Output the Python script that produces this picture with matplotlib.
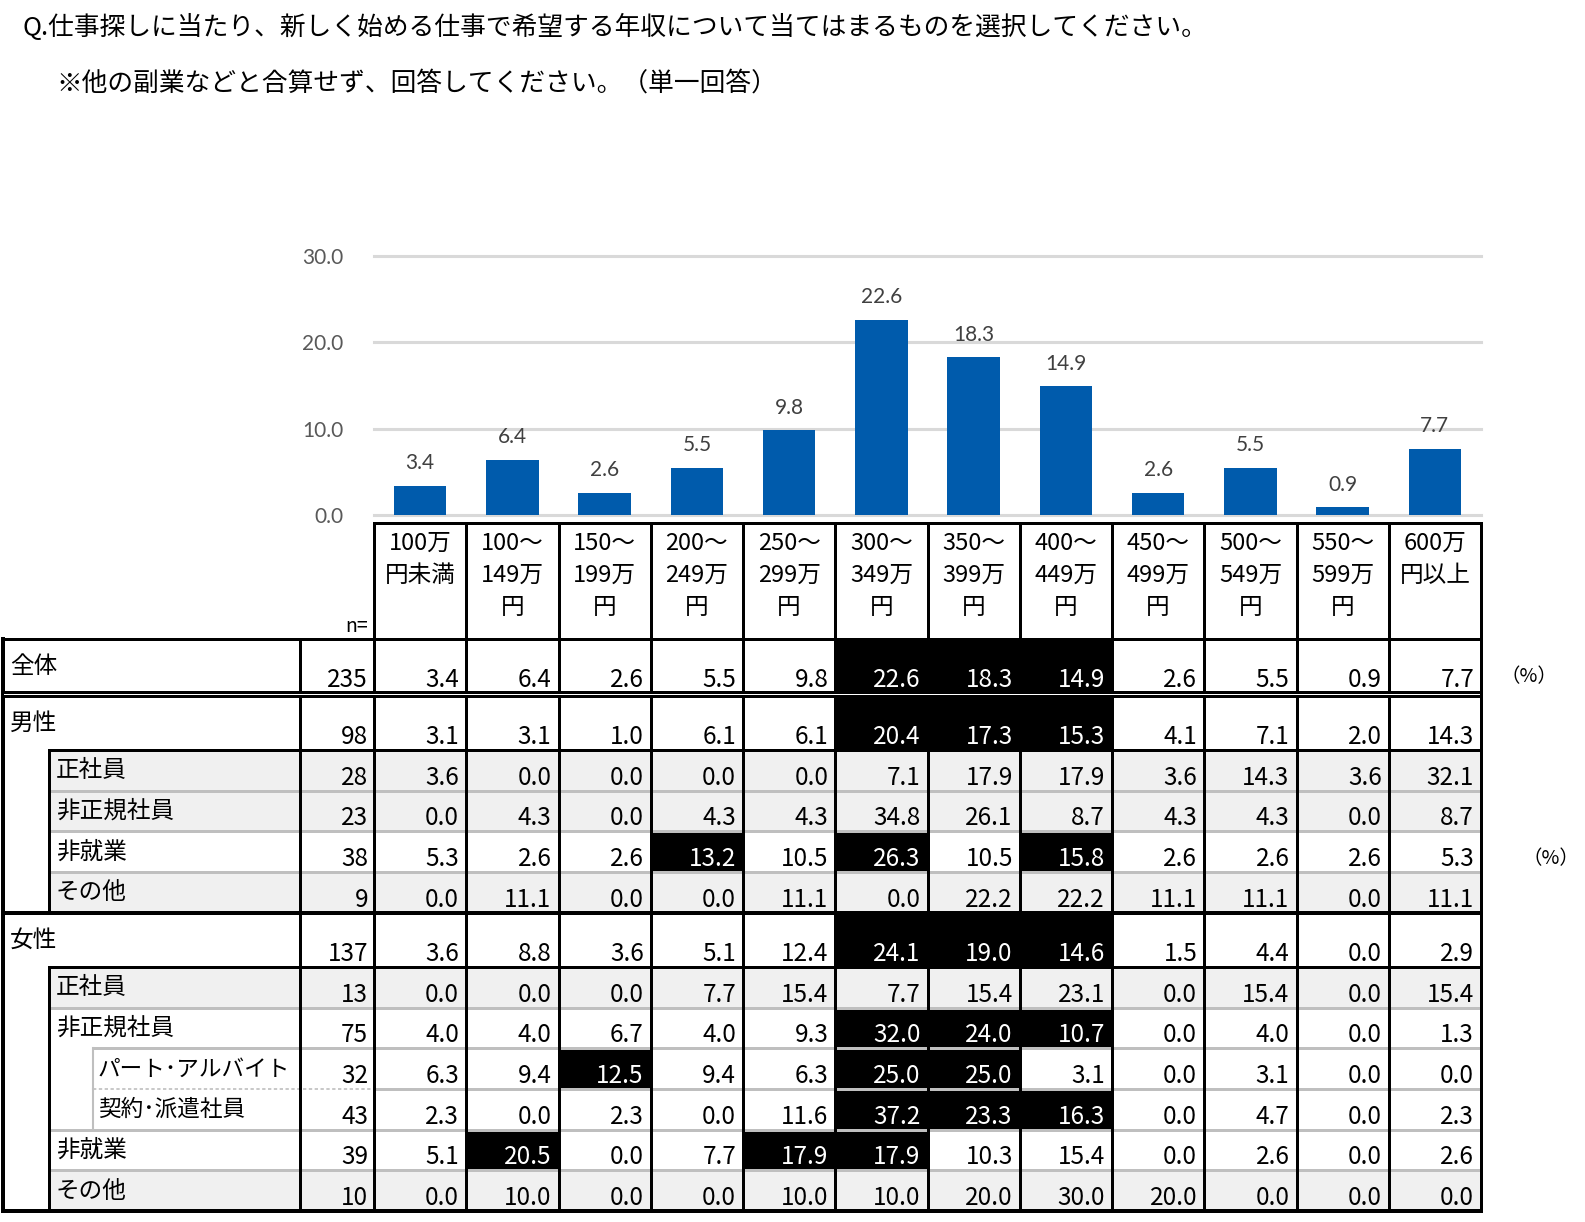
import matplotlib.pyplot as plt
from matplotlib.patches import Rectangle

plt.rcParams['font.family'] = ['Noto Sans CJK JP', 'DejaVu Sans']

# ---- data ----
title_1 = 'Q.仕事探しに当たり、新しく始める仕事で希望する年収について当てはまるものを選択してください。'
title_2 = '※他の副業などと合算せず、回答してください。（単一回答）'

categories = ['100万\n円未満', '100～\n149万\n円', '150～\n199万\n円', '200～\n249万\n円',
              '250～\n299万\n円', '300～\n349万\n円', '350～\n399万\n円', '400～\n449万\n円',
              '450～\n499万\n円', '500～\n549万\n円', '550～\n599万\n円', '600万\n円以上']

row_labels = ['全体', '男性', '正社員', '非正規社員', '非就業', 'その他',
              '女性', '正社員', '非正規社員', 'パート･アルバイト', '契約･派遣社員', '非就業', 'その他']
row_level = [0, 0, 1, 1, 1, 1, 0, 1, 1, 2, 2, 1, 1]
row_n = [235, 98, 28, 23, 38, 9, 137, 13, 75, 32, 43, 39, 10]

overall = [3.4, 6.4, 2.6, 5.5, 9.8, 22.6, 18.3, 14.9, 2.6, 5.5, 0.9, 7.7]
male = [3.1, 3.1, 1.0, 6.1, 6.1, 20.4, 17.3, 15.3, 4.1, 7.1, 2.0, 14.3]
male_regular = [3.6, 0.0, 0.0, 0.0, 0.0, 7.1, 17.9, 17.9, 3.6, 14.3, 3.6, 32.1]
male_nonregular = [0.0, 4.3, 0.0, 4.3, 4.3, 34.8, 26.1, 8.7, 4.3, 4.3, 0.0, 8.7]
male_notworking = [5.3, 2.6, 2.6, 13.2, 10.5, 26.3, 10.5, 15.8, 2.6, 2.6, 2.6, 5.3]
male_other = [0.0, 11.1, 0.0, 0.0, 11.1, 0.0, 22.2, 22.2, 11.1, 11.1, 0.0, 11.1]
female = [3.6, 8.8, 3.6, 5.1, 12.4, 24.1, 19.0, 14.6, 1.5, 4.4, 0.0, 2.9]
female_regular = [0.0, 0.0, 0.0, 7.7, 15.4, 7.7, 15.4, 23.1, 0.0, 15.4, 0.0, 15.4]
female_nonregular = [4.0, 4.0, 6.7, 4.0, 9.3, 32.0, 24.0, 10.7, 0.0, 4.0, 0.0, 1.3]
female_parttime = [6.3, 9.4, 12.5, 9.4, 6.3, 25.0, 25.0, 3.1, 0.0, 3.1, 0.0, 0.0]
female_contract = [2.3, 0.0, 2.3, 0.0, 11.6, 37.2, 23.3, 16.3, 0.0, 4.7, 0.0, 2.3]
female_notworking = [5.1, 20.5, 0.0, 7.7, 17.9, 17.9, 10.3, 15.4, 0.0, 2.6, 0.0, 2.6]
female_other = [0.0, 10.0, 0.0, 0.0, 10.0, 10.0, 20.0, 30.0, 20.0, 0.0, 0.0, 0.0]

rows = [overall, male, male_regular, male_nonregular, male_notworking, male_other,
        female, female_regular, female_nonregular, female_parttime, female_contract,
        female_notworking, female_other]

# ---- layout (pixels) ----
W, H = 1585, 1222
L0, L1, L2 = 3, 49, 93           # label indents
NL, DL, R = 300, 374, 1481        # n column, data start, right edge
CW = (R - DL) / len(categories)
HEAD_TOP, HEAD_BOT = 523, 639
H_GROUP, H_SUB = 54, 40.7
BLACK_LW = 3 * 0.72
GRAY_LW = 3 * 0.72
GRAY = '#bfbfbf'
SHADE = '#f0f0f0'

fig = plt.figure(figsize=(W / 100, H / 100), dpi=100)
ax = fig.add_axes([0, 0, 1, 1])
ax.set_xlim(0, W)
ax.set_ylim(H, 0)
ax.axis('off')

ax.text(22, 27, title_1, fontsize=18.5, va='center', ha='left')
ax.text(56, 84, title_2, fontsize=18.5, va='center', ha='left')

# ---- bar chart aligned with table columns ----
bx = fig.add_axes([DL / W, (H - 515) / H, (R - DL) / W, (515 - 256) / H])
xs = range(len(categories))
bars = bx.bar(xs, overall, width=0.57, color='#005bac', zorder=3)
bx.bar_label(bars, labels=[f'{v:.1f}' for v in overall], padding=9,
             fontsize=15, color='#404040', family='Lato')
bx.set_xlim(-0.5, len(categories) - 0.5)
bx.set_ylim(0, 30)
bx.set_yticks([0, 10, 20, 30])
bx.set_yticklabels([f'{v:.1f}' for v in [0, 10, 20, 30]], family='Lato',
                   fontsize=15, color='#595959')
bx.tick_params(axis='y', length=0, pad=22)
bx.set_xticks([])
bx.yaxis.grid(True, color='#d9d9d9', lw=2.2, clip_on=False)
bx.set_axisbelow(True)
for s in bx.spines.values():
    s.set_visible(False)

# ---- row positions ----
tops, bots = [], []
y = HEAD_BOT
for i, lev in enumerate(row_level):
    h = H_GROUP if lev == 0 else H_SUB
    tops.append(y)
    bots.append(y + h)
    y += h
    if i == 0:
        y += 3  # double rule under 全体

# header labels
for j, cat in enumerate(categories):
    cx = DL + (j + 0.5) * CW
    for k, line in enumerate(cat.split('\n')):
        ax.text(cx, 543 + k * 32, line, fontsize=17, ha='center', va='center')
ax.text(DL - 6, 627, 'n=', fontsize=14, ha='right', va='center')

# cell fills and text
for i, vals in enumerate(rows):
    lev = row_level[i]
    top, bot = tops[i], bots[i]
    x_lab = [L0, L1, L2][lev]
    if row_n[i] < 30:
        ax.add_patch(Rectangle((L1, top), R - L1, bot - top, color=SHADE, lw=0, zorder=1))
    top3 = sorted(range(len(vals)), key=lambda c: -vals[c])[:3] if row_n[i] >= 30 else []
    ax.text(x_lab + (5 if lev == 2 else 7), top + 0.51 * (bot - top), row_labels[i],
            fontsize=16.3 if lev == 2 else 17, ha='left', va='center', zorder=5)
    ax.text(DL - 6, bot - 6, str(row_n[i]), fontsize=17.5, ha='right', va='baseline', zorder=5)
    for j, v in enumerate(vals):
        x0 = DL + j * CW
        hl = j in top3
        if hl:
            ax.add_patch(Rectangle((x0, top), CW, bot - top, color='black', lw=0, zorder=2))
        ax.text(x0 + CW - 7, bot - 6, f'{v:.1f}', fontsize=17.5, ha='right', va='baseline',
                color='white' if hl else 'black', zorder=5)


def hline(yy, x0, x1, color='black', lw=BLACK_LW, ls='-'):
    ax.plot([x0, x1], [yy, yy], color=color, lw=lw, ls=ls, zorder=4 if color == 'black' else 3,
            solid_capstyle='projecting')


def vline(xx, y0, y1, color='black', lw=BLACK_LW):
    ax.plot([xx, xx], [y0, y1], color=color, lw=lw, zorder=4 if color == 'black' else 3,
            solid_capstyle='projecting')


# horizontal rules
hline(HEAD_TOP, DL, R)
hline(HEAD_BOT, L0, R)
n = len(rows)
for i in range(n):
    b = bots[i]
    nxt = row_level[i + 1] if i + 1 < n else None
    lev = row_level[i]
    if i == 0:
        ax.add_patch(Rectangle((L0 - 1, b - 2), R - L0 + 2, 7, color='black', lw=0, zorder=4))
        ax.add_patch(Rectangle((L0 + 1, b + 0.8), R - L0 - 2, 1.6, color='white', lw=0, zorder=4.5))
    elif nxt is None or nxt == 0:
        hline(b, L0, R, lw=4 * 0.72)
    elif lev == 0:
        hline(b, L1, R)
    elif nxt == 2 and lev == 1:
        hline(b, L2, R, color=GRAY, lw=GRAY_LW)
    elif nxt == 2 and lev == 2:
        hline(b, L2, DL, color=GRAY, lw=1.2, ls=(0, (2, 1.5)))
        hline(b, DL, R, color=GRAY, lw=GRAY_LW)
    else:
        hline(b, L1, R, color=GRAY, lw=GRAY_LW)

# vertical rules
vline(L0, HEAD_BOT, bots[-1], lw=4 * 0.72)
vline(NL, HEAD_BOT, bots[-1])
for j in range(len(categories) + 1):
    vline(DL + j * CW, HEAD_TOP, bots[-1])
for i in range(n):
    if row_level[i] >= 1:
        vline(L1, tops[i], bots[i])
    if row_level[i] == 2:
        vline(L2, tops[i], bots[i], color=GRAY, lw=1.5)

ax.text(1500, 677, '（%）', fontsize=14, ha='left', va='center')
ax.text(1522, 859, '（%）', fontsize=14, ha='left', va='center')

fig.savefig('out.png', dpi=100)
